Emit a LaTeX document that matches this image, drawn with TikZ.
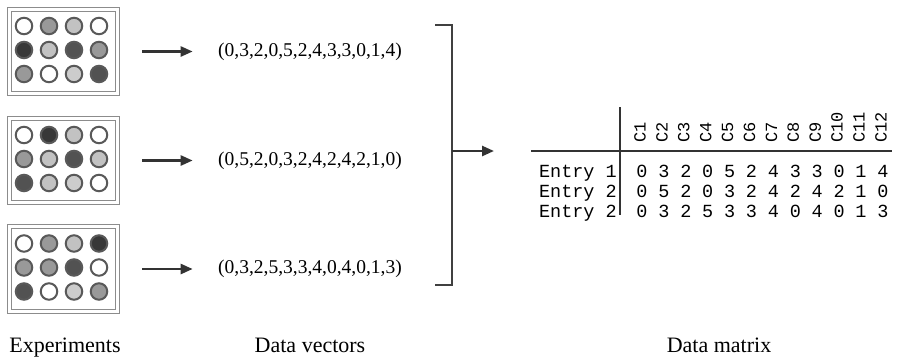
\documentclass[tikz,border=0pt]{standalone}
\usepackage{fontspec}
\setmainfont{Liberation Serif}
\setmonofont{Liberation Mono}
\usepackage{tikz}
\usetikzlibrary{arrows.meta, positioning}
\tikzset{>/.tip={Triangle[length=12pt,width=10pt]}}
\definecolor{lv0}{gray}{1}
\definecolor{lv1}{gray}{0.80}
\definecolor{lv2}{gray}{0.76}
\definecolor{lv3}{gray}{0.60}
\definecolor{lv4}{gray}{0.32}
\definecolor{lv5}{gray}{0.22}
\tikzset{plate/.style={draw=black!45, line width=0.8pt, double=white, double distance=3pt, minimum width=108.5pt, minimum height=84.5pt, inner sep=0pt}}
\tikzset{well/.style={circle, draw=black!65, line width=2pt, minimum size=16.5pt, inner sep=0pt}}
\tikzset{vect/.style={font=\fontsize{19.5}{22}\selectfont}}
\tikzset{footlabel/.style={font=\fontsize{22}{26}\selectfont, anchor=base}}
\tikzset{entry/.style={font=\ttfamily\fontsize{18.5}{20}\selectfont, anchor=base, inner sep=0pt}}
\tikzset{colhead/.style={font=\ttfamily\fontsize{17}{20}\selectfont, rotate=90, anchor=west, inner sep=0pt}}
\tikzset{arr/.style={->, line width=2.5pt, draw=black!80}}
\tikzset{matline/.style={line width=2pt, draw=black!80}}

\begin{document}
\begin{tikzpicture}[line join=miter, x=1pt, y=-1pt]

\useasboundingbox (0,0) rectangle (897,360);

\foreach \k/\yc/\vals in {1/51.5/{0,3,2,0,5,2,4,3,3,0,1,4}, 2/160.5/{0,5,2,0,3,2,4,2,4,2,1,0}, 3/269/{0,3,2,5,3,3,4,0,4,0,1,3}} {
 \node[plate] (plate\k) at (63.5,\yc) {};
 \foreach \v [count=\i from 0] in \vals {
  \pgfmathtruncatemacro{\wc}{mod(\i,4)}
  \pgfmathtruncatemacro{\wr}{\i/4}
  \pgfmathsetmacro{\wx}{24+25*\wc}
  \pgfmathsetmacro{\wy}{\yc-25.5+24*\wr}
  \node[well, fill=lv\v] (well\k-\i) at (\wx,\wy) {};
 }
}

\node[vect] (vec1) at (310,51.5) {(0,3,2,0,5,2,4,3,3,0,1,4)};
\node[vect] (vec2) at (310,160.5) {(0,5,2,0,3,2,4,2,4,2,1,0)};
\node[vect] (vec3) at (310,269) {(0,3,2,5,3,3,4,0,4,0,1,3)};

\draw[arr, shorten <=24pt, shorten >=22pt] (plate1) -- (vec1);
\draw[arr, shorten <=24pt, shorten >=22pt] (plate2) -- (vec2);
\draw[arr, shorten <=24pt, shorten >=22pt] (plate3) -- (vec3);

\coordinate (btop) at (435,25);
\coordinate (bmid) at (452,151);
\coordinate (bbot) at (435,285);
\coordinate (mtip) at (494,151);
\draw[line width=2.5pt, draw=black!75] (btop) -| (bmid) |- (bbot);
\draw[arr] (bmid) -- (mtip);

\coordinate (hleft) at (531,151);
\coordinate (hright) at (892,151);
\coordinate (vtop) at (620,107);
\coordinate (vbot) at (620,215);
\draw[matline] (hleft) -- (hright);
\draw[matline] (vtop) -- (vbot);

\foreach \j in {1,...,12}
 \node[colhead] (head\j) at ({642+21.9*(\j-1)-2},143) {C\j};

\foreach \k/\lab/\by/\vals in {1/Entry 1/177/{0,3,2,0,5,2,4,3,3,0,1,4}, 2/Entry 2/197/{0,5,2,0,3,2,4,2,4,2,1,0}, 3/Entry 2/217/{0,3,2,5,3,3,4,0,4,0,1,3}} {
 \node[entry, anchor=base east] (row\k) at (617,\by) {\lab};
 \foreach \v [count=\j from 0] in \vals
  \node[entry] (cell\k-\j) at ({642+21.9*\j},\by) {\v};
}

\node[footlabel] (capexp) at (65,352) {Experiments};
\node[footlabel] (capvec) at (310,352) {Data vectors};
\node[footlabel] (capmat) at (719,352) {Data matrix};

\end{tikzpicture}
\end{document}
